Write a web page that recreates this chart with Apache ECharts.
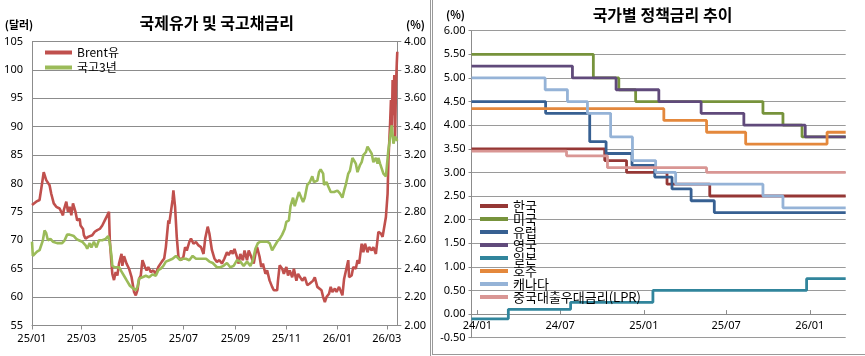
<!DOCTYPE html>
<html><head><meta charset="utf-8">
<script src="https://cdn.jsdelivr.net/npm/echarts@6/dist/echarts.min.js"></script>
<style>html,body{margin:0;padding:0;background:#fff}#c{width:865px;height:356px}</style>
</head><body><div id="c"></div>
<script>
// ---------- Left chart: 국제유가 및 국고채금리 (x = days since 2025-01-01) ----------
const oilTitle = '국제유가 및 국고채금리';
const oilTickDays = [0, 59, 120, 181, 243, 304, 365, 424];
const oilTickLabels = ['25/01','25/03','25/05','25/07','25/09','25/11','26/01','26/03'];
const oilDay = [0,2,5,9,12,14,17,21,23,26,29,33,37,38,41,43,45,47,49,52,54,57,58,61,62,64,67,69,72,75,78,81,84,87,90,92,93,95,96,98,100,102,104,107,108,110,113,116,119,122,124,126,128,130,132,135,137,139,142,145,148,151,155,158,160,163,164,166,168,169,171,173,175,178,181,183,185,188,190,193,196,199,202,205,207,210,212,215,218,221,224,227,230,233,235,238,240,242,245,247,249,252,254,257,259,262,265,267,269,272,274,276,279,281,284,287,289,293,294,296,299,301,304,306,308,311,313,316,318,320,323,326,329,332,336,338,341,343,346,348,350,352,355,357,359,362,364,367,369,371,373,375,378,379,382,384,387,389,391,394,396,398,401,403,406,408,411,413,414,417,419,421,423,425,426,428,429,430,431,432,433,434,435,436,436.6];
const brent = [76.2,76.2,76.8,77.1,80.0,82.0,80.6,79.7,78.2,76.5,75.9,75.6,74.4,75.3,76.8,75.0,75.9,74.4,76.5,75.0,73.5,73.8,72.6,72.0,70.9,70.3,70.6,70.6,70.9,71.5,71.8,72.0,72.6,73.5,74.4,75.0,70.0,65.9,64.1,63.0,64.4,63.8,65.9,67.6,65.5,67.2,65.9,65.0,63.5,60.9,60.3,61.2,63.2,63.8,66.5,65.3,64.7,65.3,64.4,64.7,64.1,65.3,66.2,66.8,68.8,73.5,72.9,75.0,77.1,78.8,75.9,70.6,67.1,66.5,67.1,68.8,68.2,69.7,70.3,69.4,69.7,69.1,68.8,67.6,70.3,72.4,71.2,68.3,66.8,66.2,66.5,65.9,66.8,67.9,67.4,68.2,67.6,68.5,67.1,65.9,67.6,66.5,68.2,66.5,68.2,67.1,65.9,67.6,68.8,67.1,65.3,65.9,64.1,64.7,62.9,61.8,61.2,61.2,62.9,65.6,65.0,64.1,65.3,63.8,64.7,63.5,65.0,62.9,64.1,63.8,62.9,63.5,62.1,62.4,62.9,63.5,61.8,62.1,61.2,60.0,59.1,60.0,60.6,61.8,60.9,61.5,60.9,61.8,61.5,60.3,63.2,63.5,66.5,63.5,63.8,65.3,65.0,66.5,65.9,69.4,67.9,69.4,67.9,68.8,68.2,68.8,67.6,67.4,71.5,71.2,70.6,70.9,74.1,78.2,84.1,90.6,94.7,89.0,98.2,92.0,99.1,88.0,97.1,101.2,103.2];
const ktbDay = [0,1,3,6,9,11,13,15,17,19,22,25,30,36,39,42,45,47,50,53,56,60,64,66,69,71,74,77,80,84,88,91,93,95,96,99,101,104,107,111,113,117,121,124,126,128,132,136,140,144,148,151,154,157,160,164,168,172,174,177,180,184,188,192,196,200,204,208,212,216,221,225,229,233,237,241,245,249,253,257,261,264,267,270,273,277,281,284,287,290,293,296,299,302,304,307,309,312,314,317,319,321,324,326,329,332,335,337,341,343,345,348,349,352,354,357,361,365,368,371,373,375,378,380,383,385,387,389,392,394,396,399,401,403,406,408,411,413,414,416,418,420,423,424,426,427,429,430,432,434,436.6];
const ktb3y = [2.59,2.49,2.50,2.52,2.53,2.53,2.60,2.67,2.65,2.60,2.61,2.59,2.58,2.58,2.60,2.64,2.64,2.63,2.63,2.61,2.60,2.59,2.565,2.54,2.58,2.55,2.59,2.55,2.60,2.60,2.61,2.63,2.58,2.49,2.42,2.41,2.42,2.41,2.38,2.34,2.32,2.28,2.26,2.25,2.27,2.33,2.34,2.35,2.34,2.36,2.35,2.39,2.40,2.42,2.45,2.46,2.47,2.49,2.50,2.46,2.47,2.47,2.46,2.49,2.47,2.47,2.47,2.47,2.45,2.44,2.41,2.41,2.42,2.44,2.41,2.42,2.46,2.45,2.42,2.45,2.42,2.46,2.54,2.58,2.59,2.59,2.59,2.58,2.53,2.56,2.59,2.61,2.64,2.68,2.73,2.74,2.84,2.90,2.84,2.90,2.94,2.93,2.87,2.90,2.99,3.01,3.05,3.01,3.02,3.08,3.10,3.07,2.99,3.01,2.98,2.94,2.94,2.95,2.93,2.90,2.95,2.99,3.07,3.09,3.18,3.16,3.14,3.08,3.13,3.15,3.20,3.22,3.26,3.27,3.21,3.15,3.18,3.14,3.18,3.14,3.14,3.07,3.05,3.04,3.24,3.28,3.38,3.41,3.28,3.33,3.30];

// ---------- Right chart: 국가별 정책금리 추이 ----------
const rateTitle = '국가별 정책금리 추이';
const rateTickDates = ['2024-01-01','2024-07-01','2025-01-01','2025-07-01','2026-01-01'];
const rateTickLabels = ['24/01','24/07','25/01','25/07','26/01'];
const rateStart = '2023-12-19', rateEnd = '2026-03-21';
const names = ['한국','미국','유럽','영국','일본','호주','캐나다','중국대출우대금리(LPR)'];
const korDates = ['2023-12-19','2024-10-07','2024-11-24','2025-02-21','2025-05-26','2026-03-21'];
const korRates = [3.50,3.25,3.00,2.75,2.50,2.50];
const usaDates = ['2023-12-19','2024-09-12','2024-11-07','2024-12-14','2025-09-20','2025-11-03','2025-12-15','2026-03-21'];
const usaRates = [5.50,5.00,4.75,4.50,4.25,4.00,3.75,3.75];
const eurDates = ['2023-12-19','2024-05-30','2024-09-04','2024-10-10','2024-12-06','2025-01-25','2025-03-04','2025-04-15','2025-06-05','2026-03-21'];
const eurRates = [4.50,4.25,3.65,3.40,3.15,2.90,2.65,2.40,2.15,2.15];
const gbrDates = ['2023-12-19','2024-07-28','2024-11-01','2025-02-03','2025-05-07','2025-08-09','2025-12-22','2026-03-21'];
const gbrRates = [5.25,5.00,4.75,4.50,4.25,4.00,3.75,3.75];
const jpnDates = ['2023-12-19','2024-03-09','2024-07-24','2025-01-21','2025-12-25','2026-03-21'];
const jpnRates = [-0.10,0.10,0.25,0.50,0.75,0.75];
const ausDates = ['2023-12-19','2025-02-14','2025-05-19','2025-08-13','2026-02-08','2026-03-21'];
const ausRates = [4.35,4.10,3.85,3.60,3.85,3.85];
const canDates = ['2023-12-19','2024-05-29','2024-07-17','2024-08-30','2024-10-20','2024-12-07','2025-01-27','2025-03-12','2025-09-20','2025-11-03','2026-03-21'];
const canRates = [5.00,4.75,4.50,4.25,3.75,3.25,3.00,2.75,2.50,2.25,2.25];
const lprDates = ['2023-12-19','2024-07-15','2024-10-13','2025-05-19','2026-03-21'];
const lprRates = [3.45,3.35,3.10,3.00,3.00];
const rateDates = [korDates, usaDates, eurDates, gbrDates, jpnDates, ausDates, canDates, lprDates];
const rateVals = [korRates, usaRates, eurRates, gbrRates, jpnRates, ausRates, canRates, lprRates];
const rateColors = ['#953735','#77933C','#376092','#604A7B','#31859C','#E4883C','#95B3D7','#D99694'];

function dayOf(s) {
  const p = s.split('-').map(Number);
  return (Date.UTC(p[0], p[1]-1, p[2]) - Date.UTC(2024,0,1)) / 86400000;
}
const rateTickDays = rateTickDates.map(dayOf);
function zip(a, b) { return a.map((v, i) => [v, b[i]]); }

const FONT = "'Noto Sans', 'Noto Sans CJK KR', sans-serif";
const KFONT = "'Noto Sans CJK KR', sans-serif";
const GRID = '#8c8c8c';
const lbl = {color: '#000', fontSize: 11, fontFamily: FONT};
const rGridH = 307, rMin = -0.5, rMax = 6;

const chart = echarts.init(document.getElementById('c'), null, {renderer: 'canvas'});
const option = {
  animation: false,
  backgroundColor: '#fff',
  grid: [
    {left: 32, top: 41.5, width: 365.3, height: 284},
    {left: 471.5, top: 30.7, width: 374.2, height: rGridH}
  ],
  legend: [
    {data: ['Brent유','국고3년'], orient: 'vertical', left: 45, top: 46.5, padding: 0, itemWidth: 27, itemHeight: 4, itemGap: 3,
     icon: 'rect', textStyle: {fontSize: 12, lineHeight: 12, fontFamily: KFONT, color: '#000'}},
    {data: names, orient: 'vertical', left: 480, top: 199.5, padding: 0, itemWidth: 28, itemHeight: 4, itemGap: 0,
     icon: 'rect', textStyle: {fontSize: 13, lineHeight: 12, fontFamily: KFONT, color: '#000'}}
  ],
  xAxis: [
    {type: 'value', gridIndex: 0, min: 0, max: 436.6,
     axisLine: {show: true, onZero: false, lineStyle: {color: GRID}},
     axisTick: {show: true, customValues: oilTickDays, length: 4, lineStyle: {color: GRID}},
     axisLabel: Object.assign({customValues: oilTickDays, margin: 8,
       formatter: v => oilTickLabels[oilTickDays.indexOf(v)] || ''}, lbl),
     splitLine: {show: false}},
    {type: 'value', gridIndex: 1, min: dayOf(rateStart), max: dayOf(rateEnd),
     offset: -rGridH * (0 - rMin) / (rMax - rMin),
     axisLine: {show: true, onZero: false, lineStyle: {color: GRID}},
     axisTick: {show: true, inside: true, customValues: rateTickDays, length: 4, lineStyle: {color: GRID}},
     axisLabel: Object.assign({customValues: rateTickDays, margin: 6,
       formatter: v => rateTickLabels[rateTickDays.indexOf(v)] || ''}, lbl),
     splitLine: {show: false}}
  ],
  yAxis: [
    {type: 'value', gridIndex: 0, min: 55, max: 105, interval: 5, position: 'left',
     axisLine: {show: true, lineStyle: {color: GRID}}, axisTick: {show: false},
     axisLabel: Object.assign({margin: 9}, lbl),
     splitLine: {show: true, lineStyle: {color: GRID, width: 1}}},
    {type: 'value', gridIndex: 0, min: 2, max: 4, interval: 0.2, position: 'right',
     axisLine: {show: true, lineStyle: {color: GRID}}, axisTick: {show: true, length: 4, lineStyle: {color: GRID}},
     axisLabel: Object.assign({margin: 7, formatter: v => v.toFixed(2)}, lbl),
     splitLine: {show: false}},
    {type: 'value', gridIndex: 1, min: rMin, max: rMax, interval: 0.5, position: 'left',
     axisLine: {show: true, onZero: false, lineStyle: {color: GRID}}, axisTick: {show: true, length: 3, lineStyle: {color: GRID}},
     axisLabel: Object.assign({margin: 6, formatter: v => v.toFixed(2)}, lbl),
     splitLine: {show: true, lineStyle: {color: '#9a9a9a', width: 1}}}
  ],
  series: [
    {type: 'line', name: 'Brent유', xAxisIndex: 0, yAxisIndex: 0, data: zip(oilDay, brent),
     showSymbol: false, symbol: 'none', lineStyle: {width: 2.6, color: '#C0504D'}, itemStyle: {color: '#C0504D'}},
    {type: 'line', name: '국고3년', xAxisIndex: 0, yAxisIndex: 1, data: zip(ktbDay, ktb3y),
     showSymbol: false, symbol: 'none', lineStyle: {width: 2.6, color: '#9BBB59'}, itemStyle: {color: '#9BBB59'}}
  ].concat(names.map((n, i) => ({
    type: 'line', name: n, step: 'end', xAxisIndex: 1, yAxisIndex: 2,
    data: zip(rateDates[i].map(dayOf), rateVals[i]),
    showSymbol: false, symbol: 'none',
    lineStyle: {width: 2.8, color: rateColors[i]}, itemStyle: {color: rateColors[i]}
  }))),
  graphic: [
    {type: 'text', x: 216.7, y: 23, style: {text: oilTitle, font: "bold 16px 'Noto Sans CJK KR'", align: 'center', verticalAlign: 'middle', fill: '#000'}},
    {type: 'text', x: 662.5, y: 15, style: {text: rateTitle, font: "bold 16px 'Noto Sans CJK KR'", align: 'center', verticalAlign: 'middle', fill: '#000'}},
    {type: 'text', x: 19, y: 25, style: {text: '(달러)', font: "bold 11px 'Noto Sans CJK KR'", align: 'center', verticalAlign: 'middle', fill: '#000'}},
    {type: 'text', x: 415.5, y: 25, style: {text: '(%)', font: "bold 11px 'Noto Sans CJK KR'", align: 'center', verticalAlign: 'middle', fill: '#000'}},
    {type: 'text', x: 455.5, y: 15, style: {text: '(%)', font: "bold 11px 'Noto Sans CJK KR'", align: 'center', verticalAlign: 'middle', fill: '#000'}},
    {type: 'line', shape: {x1: 430.5, y1: 0, x2: 430.5, y2: 356}, style: {stroke: '#999', lineWidth: 1}},
    {type: 'line', shape: {x1: 432.5, y1: 0, x2: 432.5, y2: 355}, style: {stroke: '#999', lineWidth: 1}},
    {type: 'line', shape: {x1: 432.5, y1: 354.5, x2: 865, y2: 354.5}, style: {stroke: '#999', lineWidth: 1}}
  ]
};
chart.setOption(option);
</script>
</body></html>
